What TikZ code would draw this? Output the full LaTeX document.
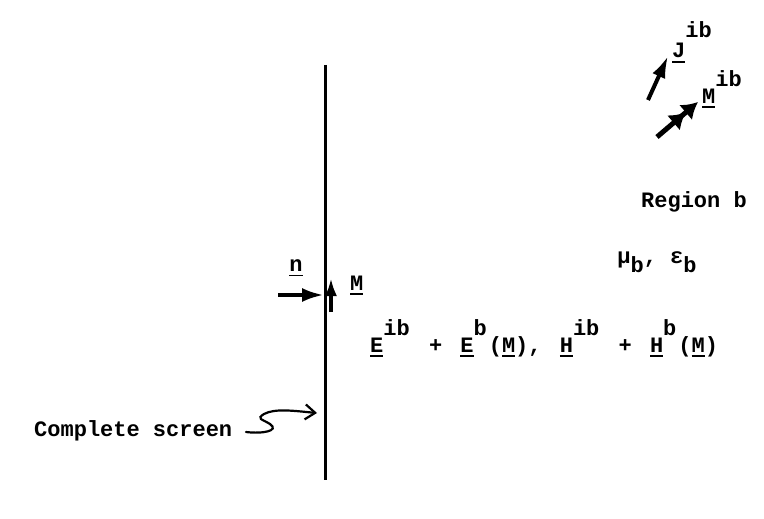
\documentclass[tikz,border=0pt]{standalone}
\usepackage{fontspec}
\setmainfont{Liberation Mono}
\usetikzlibrary{arrows.meta}
\newsavebox\ulbox
\newcommand\ulx[1]{\sbox\ulbox{#1}\rlap{\raisebox{-5pt}{\rule{\wd\ulbox}{1.8pt}}}\usebox\ulbox}
\newcommand\spr[1]{\raisebox{0.75em}{#1}}
\newcommand\sprhi[1]{\raisebox{0.95em}{#1}}
\newcommand\sbx[1]{\raisebox{-0.4em}{#1}}
\begin{document}
\begin{tikzpicture}[x=1pt,y=-1pt,
  txt/.style={inner sep=0pt, font=\fontsize{22}{26}\selectfont\bfseries},
  bigarrow/.style={line width=4pt, -{Latex[length=22pt,width=14pt]}},
  ]
\useasboundingbox (0,0) rectangle (764,519);
\fill[white] (0,0) rectangle (764,519);
% screen
\coordinate (st) at (325,65);
\coordinate (sb) at (325,480);
\draw[line width=3pt] (st) -- (sb);
% normal n
\coordinate (n0) at (278,295);
\coordinate (n1) at (324,295);
\draw[bigarrow] (n0) -- (n1);
\node[txt] (nlab) at (296,268) {\ulx{n}};
% M on screen
\coordinate (m0) at (331,312);
\coordinate (m1) at (331,278);
\draw[line width=4pt, -{Latex[length=18pt,width=12pt]}] (m0) -- (m1);
\node[txt, anchor=base west] (mlab) at (350,290) {\ulx{M}};
% J^ib
\coordinate (j0) at (648,100);
\coordinate (j1) at (668,56);
\draw[bigarrow] (j0) -- (j1);
\node[txt, anchor=base west] (jlab) at (672,58) {\ulx{J}\sprhi{ib}};
% M^ib
\coordinate (k0) at (657,137);
\coordinate (k1) at (698,102);
\draw[line width=5pt, -{Latex[length=16pt,width=20pt] Latex[length=16pt,width=20pt]}] (k0) -- (k1);
\node[txt, anchor=base west] (klab) at (702,103) {\ulx{M}\spr{ib}};
% region
\node[txt] (reg) at (694,202) {Region b};
\node[txt] (mu) at (657,262) {μ\sbx{b}, ε\sbx{b}};
% fields
\node[txt, anchor=base west] (fld) at (370,352) {\ulx{E}\spr{ib}\hspace{6pt} + \hspace{5pt}\ulx{E}\spr{b}\hspace{2pt}(\ulx{M}),\hspace{5pt} \ulx{H}\spr{ib}\hspace{6pt} + \hspace{5pt}\ulx{H}\spr{b}\hspace{2pt}(\ulx{M})};
% complete screen
\node[txt, anchor=west] (cs) at (34,431) {Complete screen};
\coordinate (c0) at (246,432);
\coordinate (c1) at (317,413);
\draw[line width=2.2pt, line cap=round, -{Straight Barb[length=10pt,width=15pt]}] (c0) .. controls (262,434) and (280,431) .. (270,424) .. controls (262,419) and (256,419) .. (264,414) .. controls (275,408) and (295,411) .. (c1);
\end{tikzpicture}
\end{document}
